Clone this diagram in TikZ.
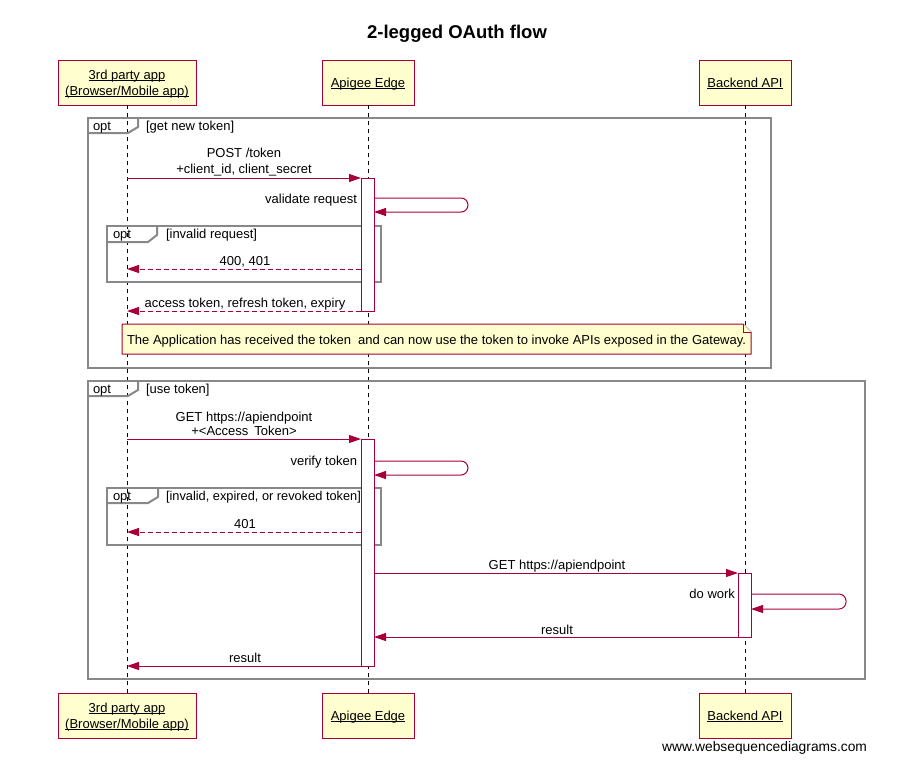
\documentclass[tikz,border=0pt]{standalone}
\usepackage{fontspec}
\setmainfont{Liberation Sans}
\usetikzlibrary{arrows.meta,calc}
\definecolor{crim}{HTML}{A80036}
\definecolor{pfill}{HTML}{FEFECE}
\definecolor{fgray}{HTML}{888888}
\newcommand\myul[1]{\setbox0\hbox{#1}\rlap{\rule[-1.8pt]{\wd0}{0.9pt}}\box0}
\begin{document}
\begin{tikzpicture}[x=1pt,y=-1pt,
  every node/.style={font=\fontsize{13}{16}\selectfont, inner sep=0pt, outer sep=0pt},
  part/.style={draw=crim, fill=pfill, line width=1pt, minimum height=45pt},
  life/.style={draw=black, dash pattern=on 4pt off 4pt, line width=0.8pt},
  actbox/.style={draw=crim, fill=white, line width=1pt, minimum width=13pt, anchor=north west},
  msg/.style={draw=crim, line width=1pt, -{Triangle[length=12pt,width=8pt]}},
  ret/.style={msg, dash pattern=on 5pt off 3pt},
  framebox/.style={draw=fgray, line width=2pt},
  lbl/.style={anchor=base},
  notebox/.style={draw=crim, fill=pfill, line width=1pt},
]
\useasboundingbox (0,0) rectangle (917,774);
\fill[white] (0,0) rectangle (917,774);

% title
\node[anchor=base, font=\bfseries\fontsize{18.5}{22}\selectfont] (title) at (457,38) {2-legged OAuth flow};

% participants
\node[part, minimum width=138pt] (appT) at (127,82.5) {};
\node[lbl] (appTa) at (127,79) {\myul{3rd party app}};
\node[lbl] (appTb) at (127,95) {\myul{(Browser/Mobile app)}};
\node[part, minimum width=92pt] (edgeT) at (368,82.5) {};
\node[lbl] (edgeTl) at (368,87) {\myul{Apigee Edge}};
\node[part, minimum width=92pt] (apiT) at (745,82.5) {};
\node[lbl] (apiTl) at (745,87) {\myul{Backend API}};

\node[part, minimum width=138pt] (appB) at (127,715.5) {};
\node[lbl] (appBa) at (127,712.5) {\myul{3rd party app}};
\node[lbl] (appBb) at (127,728.5) {\myul{(Browser/Mobile app)}};
\node[part, minimum width=92pt] (edgeB) at (368,715.5) {};
\node[lbl] (edgeBl) at (368,720) {\myul{Apigee Edge}};
\node[part, minimum width=92pt] (apiB) at (745,715.5) {};
\node[lbl] (apiBl) at (745,720) {\myul{Backend API}};

% lifelines
\draw[life] (appT.south) -- (appB.north);
\draw[life] (edgeT.south) -- (edgeB.north);
\draw[life] (apiT.south) -- (apiB.north);

% frame 1
\draw[framebox] (88,118) rectangle (771,368);
\draw[framebox] (138,118) -- (138,127) -- (128,133) -- (88,133);
\node[anchor=base west] (f1opt) at (93,130) {opt};
\node[anchor=base west] (f1cond) at (146,130) {[get new token]};

% inner frame 1
\draw[framebox] (107,226) rectangle (381,282);
\draw[framebox] (157,226) -- (157,235) -- (148,242) -- (107,242);
\node[anchor=base west] (i1opt) at (113,238) {opt};
\node[anchor=base west] (i1cond) at (166,238) {[invalid request]};

% frame 2
\draw[framebox] (88,381) rectangle (865,679);
\draw[framebox] (138,381) -- (138,390) -- (128,396) -- (88,396);
\node[anchor=base west] (f2opt) at (93,393) {opt};
\node[anchor=base west] (f2cond) at (146,393) {[use token]};

% inner frame 2
\draw[framebox] (107,488) rectangle (381,545);
\draw[framebox] (158,488) -- (158,497) -- (148,503) -- (107,503);
\node[anchor=base west] (i2opt) at (113,500) {opt};
\node[anchor=base west, font=\fontsize{12.8}{16}\selectfont] (i2cond) at (166,500) {[invalid, expired, or revoked token]};

% activations
\node[actbox, minimum height=133pt] (act1) at (361,178) {};
\node[actbox, minimum height=227pt] (act2) at (361,439) {};
\node[actbox, minimum height=64pt] (act3) at (738,573) {};

\coordinate (r1) at (0,269);
\coordinate (r2) at (0,532);

% messages block 1
\draw[msg] (appT.south |- act1.north) -- (act1.north west);
\node[lbl] (m1a) at (244,157) {POST /token};
\node[lbl] (m1b) at (244,173) {+client\_id, client\_secret};

\draw[msg, rounded corners=7pt] ($(act1.north east)+(0,20)$) -- ++(94,0) -- ++(0,14) -- ++(-94,0);
\node[anchor=base east] (m2) at (357,203) {validate request};

\draw[ret] (act1.west |- r1) -- (appT.south |- r1);
\node[lbl] (m3) at (245,265) {400, 401};

\draw[ret] (act1.south west) -- (appT.south |- act1.south);
\node[lbl] (m4) at (245,307) {access token, refresh token, expiry};

% note
\draw[notebox] (122,324) -- (743,324) -- (751,332) -- (751,354) -- (122,354) -- cycle;
\draw[crim, line width=1pt, fill=pfill] (743,324) -- (743,332) -- (751,332);
\node[anchor=base west] (note) at (127,344) {The Application has received the token\ \ and can now use the token to invoke APIs exposed in the Gateway.};

% messages block 2
\draw[msg] (appT.south |- act2.north) -- (act2.north west);
\node[lbl] (m5a) at (244,421) {GET https://apiendpoint};
\node[lbl] (m5b) at (244,435) {+<Access\hspace{6pt}Token>};

\draw[msg, rounded corners=7pt] ($(act2.north east)+(0,22)$) -- ++(94,0) -- ++(0,14) -- ++(-94,0);
\node[anchor=base east] (m6) at (357,465) {verify token};

\draw[ret] (act2.west |- r2) -- (appT.south |- r2);
\node[lbl] (m7) at (245,528) {401};

\draw[msg] (act2.east |- act3.north) -- (act3.north west);
\node[lbl] (m8) at (557,569.5) {GET https://apiendpoint};

\draw[msg, rounded corners=7pt] ($(act3.north east)+(0,21)$) -- ++(95,0) -- ++(0,15) -- ++(-95,0);
\node[anchor=base east] (m9) at (735,598) {do work};

\draw[msg] (act3.south west) -- (act2.east |- act3.south);
\node[lbl] (m10) at (557,634) {result};

\draw[msg] (act2.south west) -- (appT.south |- act2.south);
\node[lbl] (m11) at (245,662) {result};

% watermark
\node[anchor=base east, font=\fontsize{13.8}{16}\selectfont] (wm) at (867,751) {www.websequencediagrams.com};
\end{tikzpicture}
\end{document}
